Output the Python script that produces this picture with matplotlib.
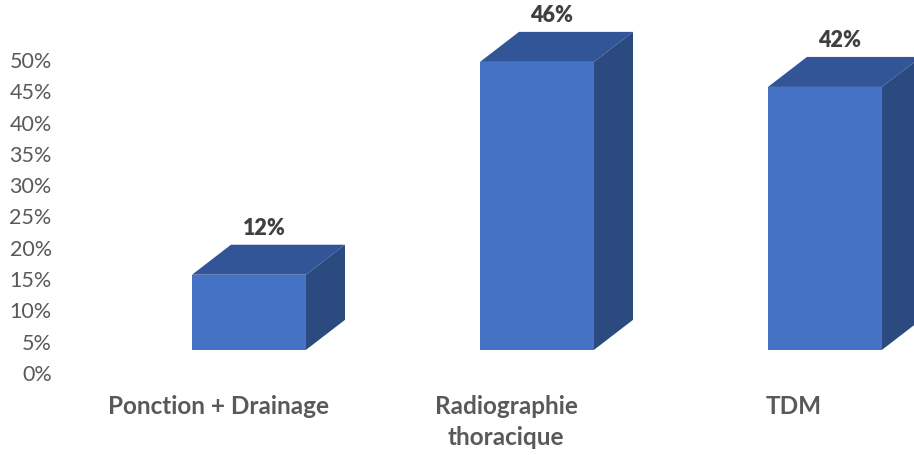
import matplotlib.pyplot as plt
from matplotlib.patches import Polygon
from matplotlib.transforms import blended_transform_factory

categories = ['Ponction + Drainage', 'Radiographie\nthoracique', 'TDM']
values = [0.12, 0.46, 0.42]
value_labels = ['12%', '46%', '42%']
yticks = [0.0, 0.05, 0.10, 0.15, 0.20, 0.25, 0.30, 0.35, 0.40, 0.45, 0.50]

plt.rcParams['font.family'] = ['Lato', 'DejaVu Sans']

fig = plt.figure(figsize=(9.14, 4.55), dpi=100)
W, H = 914, 455
# axes: left edge at 60px, 0% at y=373px, top of figure at ylim top
ax = fig.add_axes([60 / W, (H - 373) / H, (W - 60) / W, 373 / H])
px_y = 626.0   # pixels per unit of y
px_x = 288.0   # pixels per category
ax.set_ylim(0, 373 / px_y)
ax.set_xlim(-189 / px_x, -189 / px_x + (W - 60) / px_x)

base = 0.037          # front face starts a bit above the floor
width = 114 / px_x
dx = 39 / px_x        # depth offset
dy = 30 / px_y

front = '#4472C4'
top_c = '#315597'
side_c = '#2A4A80'

for i, v in enumerate(values):
    ax.bar(i, v, width=width, bottom=base, color=front, linewidth=0, zorder=2)
    x0, x1 = i - width / 2, i + width / 2
    y0, y1 = base, base + v
    ax.add_patch(Polygon([(x0, y1), (x1, y1), (x1 + dx, y1 + dy), (x0 + dx, y1 + dy)],
                         closed=True, facecolor=top_c, linewidth=0, zorder=2))
    ax.add_patch(Polygon([(x1, y0), (x1 + dx, y0 + dy), (x1 + dx, y1 + dy), (x1, y1)],
                         closed=True, facecolor=side_c, linewidth=0, zorder=2))
    ax.text(i + 15 / px_x, y1 + dy + 16 / px_y, value_labels[i], ha='center', va='center',
            fontsize=15.5, fontweight='heavy', color='#404040')

# category labels sit under the back of each bar
trans = blended_transform_factory(ax.transData, ax.transAxes)
for i, c in enumerate(categories):
    ax.text(i - 31 / px_x, -22 / 373, c, transform=trans, ha='center', va='top',
            fontsize=17.5, fontweight='bold', color='#595959', linespacing=1.4)

ax.set_yticks(yticks)
ax.set_yticklabels([f'{int(round(t * 100))}%' for t in yticks])
ax.tick_params(axis='y', length=0, pad=6, labelsize=15.5, labelcolor='#595959')
ax.set_xticks([])
for s in ax.spines.values():
    s.set_visible(False)

fig.savefig('out.png', dpi=100)
